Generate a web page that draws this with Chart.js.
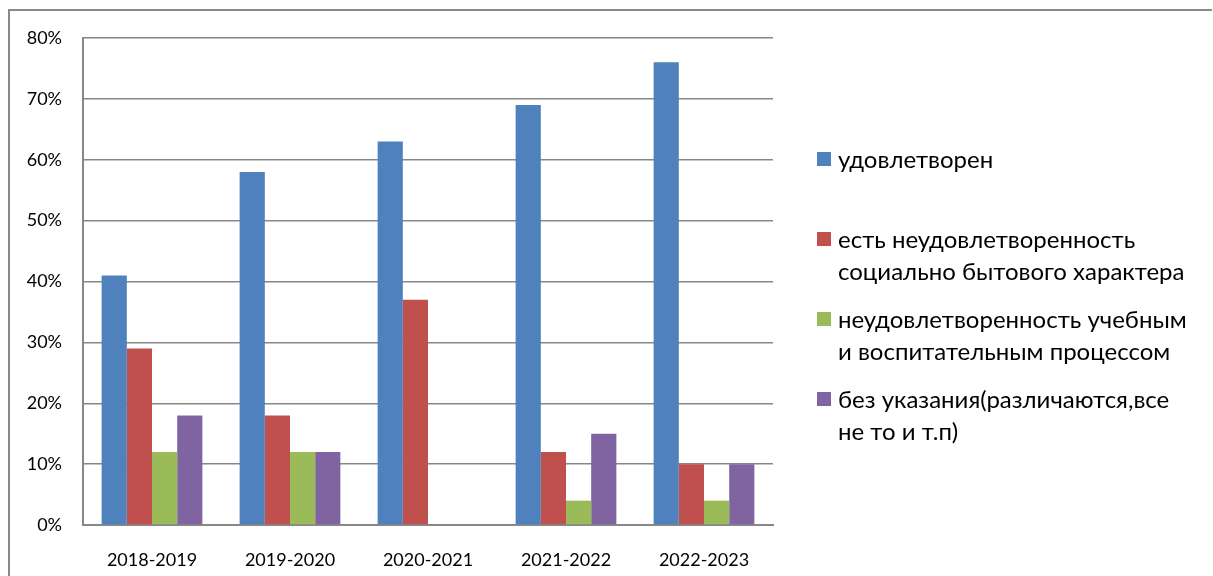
<!DOCTYPE html>
<html lang="ru">
<head>
<meta charset="utf-8">
<script src="https://cdn.jsdelivr.net/npm/chart.js@4.4.0/dist/chart.umd.min.js"></script>
<style>
    html, body { margin: 0; padding: 0; background: #fff; overflow: hidden; }
    #wrap { position: relative; width: 1213px; height: 576px; }
    #frame { position: absolute; left: 8px; top: 9px; width: 1204px; height: 620px;
             border-top: 2px solid #898989; border-left: 2px solid #898989; box-sizing: border-box; }
    #chart { position: absolute; left: 0; top: 0; }
    #legend { position: absolute; left: 817px; top: 143px;
              font-family: Lato, 'Open Sans', sans-serif; font-size: 24px; color: #000; }
    .item { height: 80px; display: flex; align-items: flex-start; }
    .box { width: 14px; height: 14px; margin-top: 9px; margin-right: 7px; flex: none; }
    .txt { line-height: 32px; white-space: nowrap; }
</style>
</head>
<body>
<div id="wrap">
    <div id="frame"></div>
    <canvas id="chart" width="1213" height="576"></canvas>
    <div id="legend"></div>
</div>
<script>
// Учебные годы
const years = ['2018-2019', '2019-2020', '2020-2021', '2021-2022', '2022-2023'];

// Доли ответов, %
const satisfied    = [41, 58, 63, 69, 76];
const socialIssues = [29, 18, 37, 12, 10];
const studyIssues  = [12, 12, 0, 4, 4];
const noReason     = [18, 12, 0, 15, 10];

// Подписи серий (по строкам, как в легенде)
const seriesNames = [
    ['удовлетворен'],
    ['есть неудовлетворенность', 'социально бытового характера'],
    ['неудовлетворенность учебным', 'и воспитательным процессом'],
    ['без указания(различаются,все', 'не то и т.п)']
];
const seriesColors = ['#4F81BD', '#C0504D', '#9BBB59', '#8064A2'];
const seriesValues = [satisfied, socialIssues, studyIssues, noReason];

// Деления оси Y
const yMin = 0, yMax = 80, yStep = 10;

const gridColor = '#878787';
const tickFont = { family: "Lato, 'Open Sans', sans-serif", size: 18 };

const datasets = seriesValues.map((vals, i) => ({
    label: seriesNames[i].join(' '),
    data: vals,
    backgroundColor: seriesColors[i],
    borderWidth: 0,
    categoryPercentage: 0.73,
    barPercentage: 1.0
}));

// Легенда справа
const legend = document.getElementById('legend');
seriesNames.forEach((lines, i) => {
    const item = document.createElement('div');
    item.className = 'item';
    const box = document.createElement('div');
    box.className = 'box';
    box.style.background = seriesColors[i];
    const txt = document.createElement('div');
    txt.className = 'txt';
    txt.innerHTML = lines.join('<br>');
    item.appendChild(box);
    item.appendChild(txt);
    legend.appendChild(item);
});

window.onload = function() {
    const ctx = document.getElementById('chart').getContext('2d');
    new Chart(ctx, {
        type: 'bar',
        data: { labels: years, datasets: datasets },
        options: {
            responsive: false,
            animation: false,
            layout: { padding: { top: 38, right: 440, bottom: 0, left: 0 } },
            plugins: {
                legend: { display: false },
                tooltip: { enabled: false }
            },
            scales: {
                x: {
                    grid: { display: false },
                    border: { display: true, color: gridColor, width: 2 },
                    ticks: { color: '#000', font: tickFont, padding: 16, maxRotation: 0 },
                    afterFit: function(scale) { scale.height = 51; }
                },
                y: {
                    min: yMin,
                    max: yMax,
                    ticks: {
                        stepSize: yStep,
                        color: '#000',
                        font: tickFont,
                        padding: 21,
                        callback: v => v + '%'
                    },
                    grid: { color: gridColor, lineWidth: 1.5, drawTicks: false },
                    border: { display: true, color: gridColor, width: 2 },
                    afterFit: function(scale) { scale.width = 83; }
                }
            }
        }
    });
};
</script>
</body>
</html>
